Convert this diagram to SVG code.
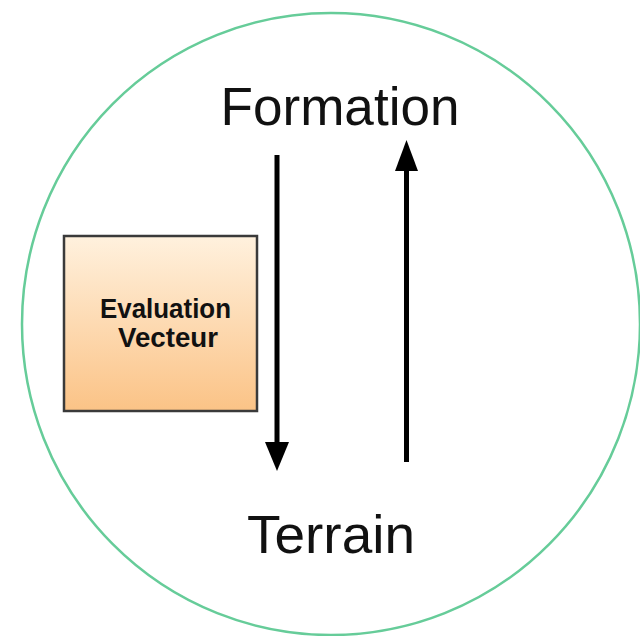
<svg xmlns="http://www.w3.org/2000/svg" width="640" height="636" viewBox="0 0 640 636">
<style>
.big{font-family:"Liberation Sans",Arial,sans-serif;font-size:53px;fill:#111}
.lbl{font-family:"Liberation Sans",Arial,sans-serif;font-size:28px;font-weight:bold;fill:#111}
.conn{stroke:#000;stroke-width:5;fill:none}
</style>
<defs>
<linearGradient id="g" x1="0" y1="0" x2="0" y2="1">
<stop offset="0" stop-color="#FFF1DE"/>
<stop offset="1" stop-color="#FBC386"/>
</linearGradient>
</defs>
<rect width="640" height="636" fill="#fff"/>
<ellipse id="cycle" cx="331" cy="324" rx="309" ry="311" fill="none" stroke="#66CC99" stroke-width="2.5"/>
<g id="formation"><text class="big" x="340" y="125" text-anchor="middle" textLength="239" lengthAdjust="spacingAndGlyphs">Formation</text></g>
<g id="terrain"><text class="big" x="331" y="553" text-anchor="middle" textLength="168" lengthAdjust="spacingAndGlyphs">Terrain</text></g>
<g id="evaluation">
<rect x="64" y="236" width="193" height="175" fill="url(#g)" stroke="#3a3a3a" stroke-width="2.5"/>
<text class="lbl" x="100" y="318" textLength="131" lengthAdjust="spacingAndGlyphs">Evaluation</text>
<text class="lbl" x="118" y="347" textLength="100" lengthAdjust="spacingAndGlyphs">Vecteur</text>
</g>
<g id="connectors">
<line class="conn" x1="277" y1="155" x2="277" y2="445"/>
<polygon points="265,442 289,442 277,471" fill="#000"/>
<line class="conn" x1="406.5" y1="462" x2="406.5" y2="168"/>
<polygon points="395,171 418,171 406.5,140" fill="#000"/>
</g>
</svg>
